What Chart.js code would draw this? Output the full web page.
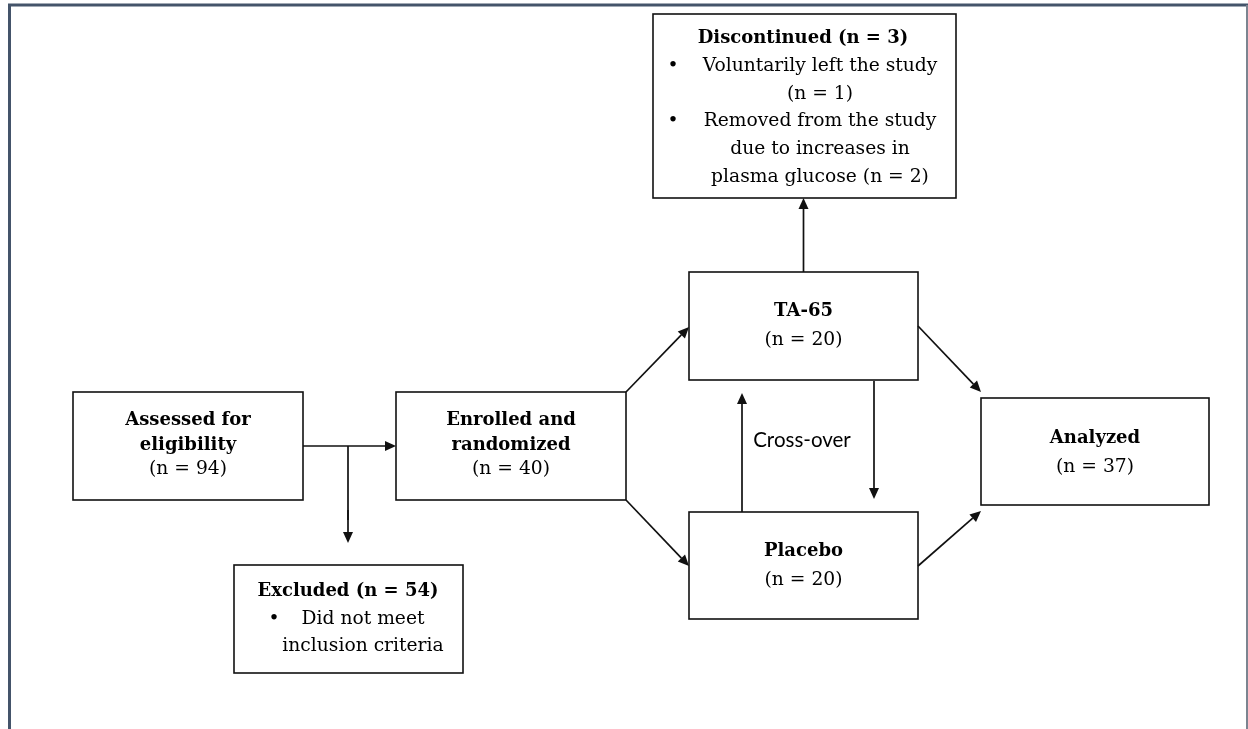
<!DOCTYPE html>
<html>
<head>
<meta charset="utf-8">
<script src="https://cdn.jsdelivr.net/npm/chart.js@4.4.1/dist/chart.umd.min.js"></script>
<style>
  html, body { margin: 0; padding: 0; background: #fff; }
  #wrap { width: 1248px; height: 729px; position: relative; }
</style>
</head>
<body>
<div id="wrap"><canvas id="flow"></canvas></div>
<script>
// flow stages and participant counts
const stages = ['Assessed for\neligibility', 'Enrolled and\nrandomized', 'TA-65', 'Placebo', 'Analyzed'];
const stageCounts = [94, 40, 20, 20, 37];
const excludedTitle = 'Excluded';
const excludedCount = 54;
const excludedReasons = ['Did not meet\ninclusion criteria'];
const discontinuedTitle = 'Discontinued';
const discontinuedCount = 3;
const discontinuedReasons = ['Voluntarily left the study', 'Removed from the study\ndue to increases in\nplasma glucose'];
const discontinuedReasonCounts = [1, 2];
const crossoverLabel = 'Cross-over';

// layout (in image units, mapped through the chart scales)
const boxes = {
  assessed: [73, 392, 303, 500],
  enrolled: [396, 392, 626, 500],
  ta65: [689, 272, 918, 380],
  placebo: [689, 512, 918, 619],
  analyzed: [981, 398, 1209, 505],
  excluded: [234, 565, 463, 673],
  discontinued: [653, 14, 956, 198]
};

const serif = '"DejaVu Serif", "Liberation Serif", serif';
const bold = 'bold 18px ' + serif;
const reg = '18.7px ' + serif;

function n(v) { return '(n = ' + v + ')'; }

const flowPlugin = {
  id: 'flow',
  afterDraw(chart) {
    const ctx = chart.ctx;
    const sx = chart.scales.x, sy = chart.scales.y;
    const X = v => sx.getPixelForValue(v);
    const Y = v => sy.getPixelForValue(v);

    ctx.save();
    // outer frame
    ctx.strokeStyle = '#44546a';
    ctx.lineWidth = 3;
    ctx.beginPath();
    ctx.moveTo(X(9.5), Y(729));
    ctx.lineTo(X(9.5), Y(5));
    ctx.lineTo(X(1248), Y(5));
    ctx.stroke();
    ctx.strokeStyle = '#7b8490';
    ctx.lineWidth = 2;
    ctx.beginPath();
    ctx.moveTo(X(1247), Y(5));
    ctx.lineTo(X(1247), Y(729));
    ctx.stroke();

    // boxes
    ctx.strokeStyle = '#111';
    ctx.lineWidth = 1.6;
    Object.values(boxes).forEach(b => {
      ctx.strokeRect(X(b[0]), Y(b[1]), X(b[2]) - X(b[0]), Y(b[3]) - Y(b[1]));
    });

    // arrows
    function arrow(x0, y0, x1, y1) {
      const a = Math.atan2(Y(y1) - Y(y0), X(x1) - X(x0));
      const L = 11, W = 5;
      const bx = X(x1) - L * Math.cos(a), by = Y(y1) - L * Math.sin(a);
      ctx.beginPath();
      ctx.moveTo(X(x0), Y(y0));
      ctx.lineTo(bx, by);
      ctx.stroke();
      ctx.beginPath();
      ctx.moveTo(X(x1), Y(y1));
      ctx.lineTo(bx - W * Math.sin(a), by + W * Math.cos(a));
      ctx.lineTo(bx + W * Math.sin(a), by - W * Math.cos(a));
      ctx.closePath();
      ctx.fill();
    }
    function line(x0, y0, x1, y1) {
      ctx.beginPath();
      ctx.moveTo(X(x0), Y(y0));
      ctx.lineTo(X(x1), Y(y1));
      ctx.stroke();
    }
    ctx.fillStyle = '#111';
    ctx.lineWidth = 1.7;
    arrow(303, 446, 396, 446);
    line(348, 446, 348, 520);
    arrow(348, 510, 348, 543);
    arrow(626, 392, 689, 327);
    arrow(626, 500, 689, 566);
    arrow(918, 326, 981, 392);
    arrow(918, 566, 981, 511);
    arrow(803.5, 272, 803.5, 198);
    arrow(742, 512, 742, 393);
    arrow(874, 381, 874, 499);

    // text
    ctx.fillStyle = '#000';
    ctx.textAlign = 'center';
    ctx.textBaseline = 'middle';
    function lines(arr, cx, y0, step, font) {
      ctx.font = font;
      arr.forEach((t, i) => ctx.fillText(t, X(cx), Y(y0 + i * step)));
    }
    const centers = [[188, 420], [511, 420], [803.5, 311], [803.5, 551], [1095, 438]];
    stages.forEach((s, i) => {
      const t = s.split('\n');
      lines(t, centers[i][0], centers[i][1], 25, bold);
      lines([n(stageCounts[i])], centers[i][0], centers[i][1] + t.length * 25 + (t.length > 1 ? -1 : 4), 25, reg);
    });

    // excluded
    lines([excludedTitle + ' ' + n(excludedCount)], 348, 591, 28, bold);
    const exLines = excludedReasons[0].split('\n');
    lines(exLines, 363, 619, 27, reg);
    ctx.fillText('\u2022', X(274), Y(619));

    // discontinued
    lines([discontinuedTitle + ' ' + n(discontinuedCount)], 803, 38, 28, bold);
    let y = 66;
    discontinuedReasons.forEach((r, i) => {
      const t = r.split('\n');
      if (i === 0) t.push(n(discontinuedReasonCounts[i]));
      else t[t.length - 1] += ' ' + n(discontinuedReasonCounts[i]);
      ctx.font = reg;
      ctx.fillText('\u2022', X(673), Y(y));
      lines(t, 820, y, 27.7, reg);
      y += t.length * 27.7;
    });

    // cross-over label
    ctx.font = '20.5px Lato, "Open Sans", sans-serif';
    ctx.fillText(crossoverLabel, X(802), Y(440));
    ctx.restore();
  }
};

new Chart(document.getElementById('flow').getContext('2d'), {
  type: 'scatter',
  data: {
    datasets: [{
      label: 'stages',
      data: [],
      pointRadius: 0
    }]
  },
  options: {
    responsive: true,
    maintainAspectRatio: false,
    animation: false,
    layout: { padding: 0 },
    plugins: {
      legend: { display: false },
      tooltip: { enabled: false }
    },
    scales: {
      x: { type: 'linear', min: 0, max: 1248, display: false },
      y: { type: 'linear', min: 0, max: 729, reverse: true, display: false }
    }
  },
  plugins: [flowPlugin]
});
</script>
</body>
</html>
